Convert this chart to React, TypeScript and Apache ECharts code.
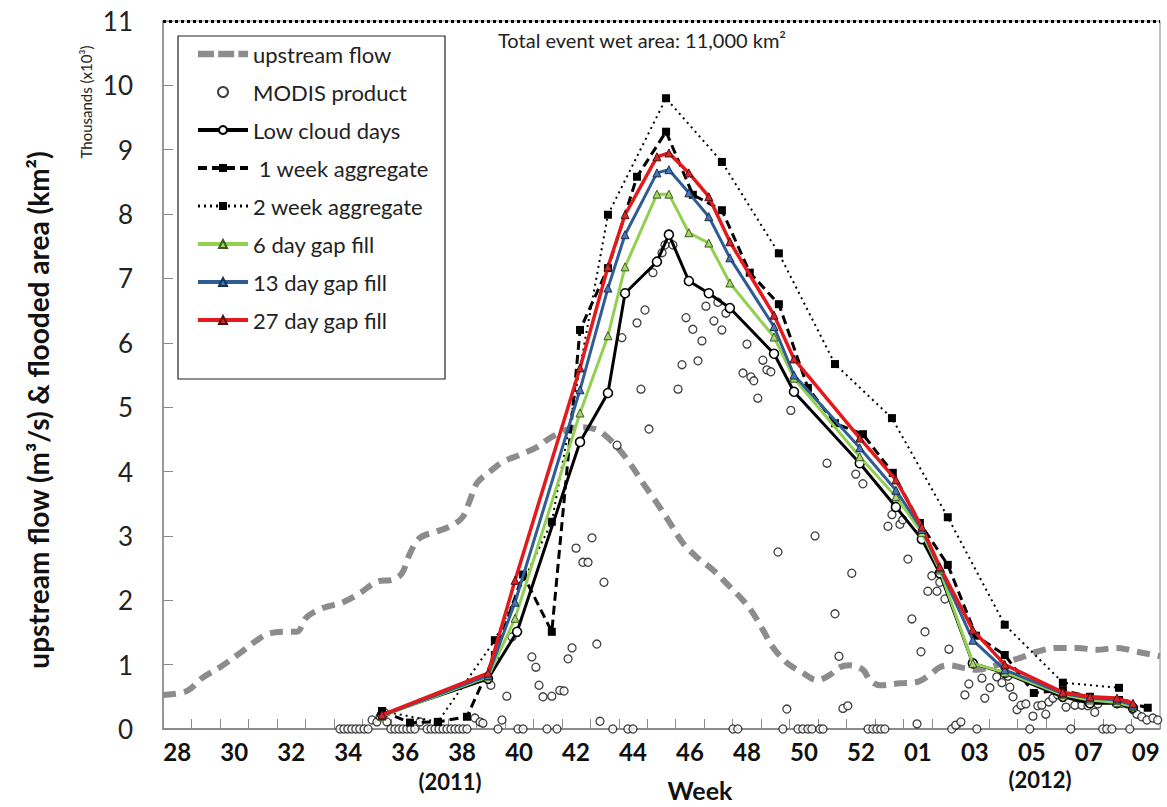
import React, { useEffect, useRef } from "react";
import * as echarts from "echarts";

const FONT = 'Lato, "Liberation Sans", Arial, sans-serif';

// Category slots along the week axis (US week numbering; 2011 has a week 53)
const weekCats = [
  "28", "29", "30", "31", "32", "33", "34", "35", "36", "37", "38", "39", "40",
  "41", "42", "43", "44", "45", "46", "47", "48", "49", "50", "51", "52", "53",
  "01", "02", "03", "04", "05", "06", "07", "08", "09",
];
const yTicks = [0, 1, 2, 3, 4, 5, 6, 7, 8, 9, 10, 11];

// x = position in weeks from the start of week 28 (2011); y = thousands
const upstreamFlow: number[][] = [
  [0.0, 0.53], [0.84, 0.59], [1.37, 0.79], [2.0, 0.96], [2.7, 1.18], [3.3, 1.38],
  [3.76, 1.49], [4.46, 1.51], [4.7, 1.51], [5.05, 1.74], [5.62, 1.88], [6.32, 1.97],
  [6.91, 2.11], [7.51, 2.29], [8.07, 2.32], [8.39, 2.42], [8.67, 2.73], [9.02, 2.97],
  [9.62, 3.07], [10.18, 3.17], [10.53, 3.3], [10.78, 3.56], [11.02, 3.82], [11.48, 4.0],
  [11.93, 4.15], [12.53, 4.26], [13.13, 4.38], [13.58, 4.52], [14.18, 4.65], [14.74, 4.69],
  [15.23, 4.65], [15.58, 4.54], [15.94, 4.38], [16.39, 4.13], [16.85, 3.82], [17.34, 3.51],
  [17.8, 3.2], [18.25, 2.89], [18.74, 2.67], [19.31, 2.47], [19.9, 2.21], [20.36, 2.0],
  [20.71, 1.8], [21.06, 1.54], [21.41, 1.27], [21.9, 1.03], [22.46, 0.87], [22.96, 0.76],
  [23.41, 0.84], [23.76, 0.96], [24.11, 0.99], [24.57, 0.92], [24.82, 0.76], [25.17, 0.68],
  [25.87, 0.71], [26.47, 0.73], [26.92, 0.84], [27.27, 0.96], [27.62, 0.99], [28.08, 0.95],
  [28.57, 0.92], [29.03, 0.96], [29.62, 1.04], [30.19, 1.12], [30.68, 1.2], [31.38, 1.26],
  [32.08, 1.26], [32.78, 1.23], [33.49, 1.26], [34.19, 1.2], [35.0, 1.13],
];

const modisProduct: number[][] = [
  [6.21, 0], [6.35, 0], [6.49, 0], [6.63, 0], [6.77, 0], [6.91, 0], [7.06, 0], [7.2, 0],
  [7.34, 0.14], [7.51, 0.11], [7.62, 0.19], [7.79, 0.25], [7.86, 0.11],
  [8.0, 0], [8.14, 0], [8.28, 0], [8.42, 0], [8.56, 0], [8.7, 0], [8.84, 0], [9.02, 0.11],
  [9.27, 0], [9.41, 0], [9.55, 0], [9.69, 0], [9.83, 0], [9.97, 0], [10.11, 0], [10.25, 0],
  [10.39, 0], [10.53, 0], [10.67, 0], [10.95, 0.17], [11.13, 0.11], [11.23, 0.09],
  [11.51, 0.68], [11.76, 0], [11.9, 0.14], [12.07, 0.51], [12.25, 1.43], [12.46, 0], [12.64, 0],
  [12.95, 1.12], [13.09, 0.96], [13.2, 0.68], [13.34, 0.5], [13.48, 0], [13.65, 0.51],
  [13.83, 0], [13.93, 0.6], [14.08, 0.59], [14.22, 1.09], [14.36, 1.26], [14.5, 2.81],
  [14.74, 2.59], [14.92, 2.59], [15.06, 2.97], [15.23, 1.32], [15.34, 0.12], [15.48, 2.28],
  [15.79, 0], [15.94, 4.41], [16.11, 6.08], [16.32, 0], [16.5, 0], [16.64, 6.31], [16.78, 5.28],
  [16.92, 6.51], [17.06, 4.66], [17.2, 7.09], [17.52, 7.4], [17.62, 7.52], [17.9, 7.52],
  [18.08, 5.28], [18.22, 5.66], [18.36, 6.39], [18.6, 6.21], [18.78, 5.72], [18.92, 6.03],
  [19.06, 6.57], [19.34, 6.34], [19.48, 6.63], [19.62, 6.2], [19.76, 6.46], [20.01, 0],
  [20.18, 0], [20.36, 5.53], [20.5, 5.98], [20.64, 5.47], [20.74, 5.41], [20.88, 5.14],
  [21.06, 5.73], [21.2, 5.58], [21.34, 5.55], [21.59, 2.75], [21.76, 0], [21.9, 0.31],
  [22.04, 4.95], [22.29, 0], [22.46, 0], [22.64, 0], [22.78, 0], [22.89, 3.0], [23.06, 0],
  [23.17, 0], [23.31, 4.13], [23.59, 1.79], [23.73, 1.13], [23.87, 0.32], [24.04, 0.36],
  [24.18, 2.42], [24.32, 3.96], [24.57, 3.81], [24.75, 0], [24.92, 0], [25.06, 0], [25.2, 0],
  [25.34, 0], [25.45, 3.15], [25.59, 3.33], [25.87, 3.18], [25.97, 3.25], [26.15, 2.64],
  [26.29, 1.71], [26.47, 0.08], [26.61, 1.2], [26.75, 1.51], [26.85, 2.14], [26.99, 2.38],
  [27.17, 2.14], [27.27, 2.28], [27.45, 2.02], [27.59, 1.24], [27.69, 0], [27.83, 0.06],
  [28.01, 0.11], [28.15, 0.53], [28.29, 0.7], [28.57, 0], [28.75, 0.79], [28.85, 0.48],
  [29.03, 0.64], [29.27, 0.81], [29.45, 0.72], [29.66, 0.82], [29.73, 0.65], [29.84, 0.5],
  [29.98, 0.3], [30.12, 0.37], [30.29, 0.39], [30.43, 0], [30.54, 0.2], [30.71, 0.36],
  [30.85, 0.37], [30.99, 0.23], [31.1, 0.42], [31.24, 0.48], [31.41, 0.53], [31.7, 0.34],
  [31.87, 0], [32.01, 0.37], [32.26, 0.37], [32.47, 0.36], [32.71, 0.26], [32.82, 0.39],
  [32.99, 0], [33.13, 0], [33.31, 0], [33.49, 0.4], [33.66, 0.4], [33.84, 0.39], [33.94, 0],
  [34.05, 0.3], [34.19, 0.23], [34.36, 0.19], [34.54, 0.14], [34.75, 0.17], [34.92, 0.14],
];

const lowCloudDays: number[][] = [
  [7.69, 0.22], [11.41, 0.78], [12.43, 1.51], [14.64, 4.46], [15.62, 5.22], [16.22, 6.77],
  [17.34, 7.26], [17.76, 7.68], [18.46, 6.96], [19.16, 6.77], [19.9, 6.54], [21.45, 5.83],
  [22.15, 5.24], [24.46, 4.13], [25.73, 3.45], [26.64, 2.95], [27.27, 2.42], [28.43, 1.02],
  [29.55, 0.87], [31.59, 0.5], [32.54, 0.4], [33.49, 0.4], [34.05, 0.33],
];

const weekAggregate1: number[][] = [
  [7.69, 0.28], [8.67, 0.1], [9.65, 0.11], [10.67, 0.19], [11.65, 1.15], [12.64, 2.4],
  [13.65, 1.51], [14.64, 6.2], [15.62, 7.16], [16.64, 8.58], [17.66, 9.28], [18.6, 8.3],
  [19.62, 8.06], [20.6, 7.09], [21.62, 6.6], [22.64, 5.3], [23.59, 4.75], [24.57, 4.58],
  [25.62, 3.98], [26.57, 3.2], [27.55, 2.55], [28.54, 1.45], [29.55, 1.15], [30.57, 0.56],
  [31.59, 0.6], [32.54, 0.5], [33.56, 0.45], [34.57, 0.33],
];

const weekAggregate2: number[][] = [
  [7.69, 0.28], [9.65, 0.11], [11.65, 1.38], [13.65, 3.22], [15.62, 7.99], [17.66, 9.8],
  [19.62, 8.81], [21.62, 7.39], [23.59, 5.67], [25.59, 4.83], [27.55, 3.29], [29.55, 1.62],
  [31.59, 0.72], [33.56, 0.64],
];

const gapFill6: number[][] = [
  [7.69, 0.2], [11.41, 0.81], [12.36, 1.72], [14.64, 4.91], [15.62, 6.11], [16.22, 7.18],
  [17.34, 8.31], [17.76, 8.31], [18.46, 7.71], [19.16, 7.55], [19.9, 6.93], [21.45, 6.09],
  [22.15, 5.45], [24.46, 4.23], [25.73, 3.61], [26.64, 3.05], [27.27, 2.47], [28.43, 1.02],
  [29.55, 0.88], [31.59, 0.53], [32.54, 0.45], [33.49, 0.41], [34.05, 0.35],
];

const gapFill13: number[][] = [
  [7.69, 0.21], [11.41, 0.83], [12.36, 1.97], [14.64, 5.27], [15.62, 6.85], [16.22, 7.68],
  [17.34, 8.64], [17.76, 8.69], [18.46, 8.33], [19.16, 7.96], [19.9, 7.32], [21.45, 6.25],
  [22.15, 5.5], [24.46, 4.37], [25.73, 3.71], [26.64, 3.1], [27.27, 2.5], [28.43, 1.38],
  [29.55, 0.92], [31.59, 0.55], [32.54, 0.48], [33.49, 0.45], [34.05, 0.37],
];

const gapFill27: number[][] = [
  [7.69, 0.22], [11.41, 0.87], [12.36, 2.31], [14.64, 5.61], [15.62, 7.18], [16.22, 7.99],
  [17.34, 8.89], [17.76, 8.95], [18.46, 8.64], [19.16, 8.27], [19.9, 7.57], [21.45, 6.43],
  [22.15, 5.75], [24.46, 4.52], [25.73, 3.87], [26.64, 3.14], [27.27, 2.52], [28.43, 1.54],
  [29.55, 1.0], [31.59, 0.57], [32.54, 0.5], [33.49, 0.48], [34.05, 0.4],
];

const totalWetArea = 11;

const legendNames = [
  "upstream flow",
  "MODIS product",
  "Low cloud days",
  " 1 week aggregate",
  "2 week aggregate",
  "6 day gap fill",
  "13 day gap fill",
  "27 day gap fill",
];

export default function App() {
  const ref = useRef<HTMLDivElement>(null);

  useEffect(() => {
    if (!ref.current) return;
    const chart = echarts.init(ref.current, undefined, { renderer: "svg" });

    const option: any = {
      animation: false,
      backgroundColor: "#fff",
      textStyle: { fontFamily: FONT },
      grid: {
        left: 163,
        right: 7,
        top: 21,
        bottom: 78,
        show: true,
        borderColor: "#8a8a8a",
        borderWidth: 1,
      },
      xAxis: [
        {
          type: "value",
          min: 0,
          max: weekCats.length,
          show: false,
        },
        {
          type: "category",
          data: weekCats,
          boundaryGap: true,
          position: "bottom",
          axisLine: { show: true, lineStyle: { color: "#7a7a7a", width: 1.5 } },
          axisTick: {
            show: true,
            inside: true,
            length: 10,
            interval: 0,
            lineStyle: { color: "#8a8a8a", width: 1 },
          },
          axisLabel: {
            interval: 1,
            margin: 10,
            fontSize: 24,
            fontWeight: "bold",
            color: "#111",
            fontFamily: FONT,
          },
          splitLine: { show: false },
        },
      ],
      yAxis: {
        type: "value",
        min: 0,
        max: yTicks[yTicks.length - 1],
        interval: 1,
        axisLine: { show: true, lineStyle: { color: "#8a8a8a", width: 1.5 } },
        axisTick: { show: true, inside: true, length: 10, lineStyle: { color: "#8a8a8a" } },
        axisLabel: {
          margin: 30,
          fontSize: 26,
          color: "#222",
          fontFamily: FONT,
        },
        splitLine: { show: false },
      },
      legend: {
        orient: "vertical",
        left: 196,
        top: 43,
        itemWidth: 50,
        itemHeight: 10,
        itemGap: 16,
        padding: 0,
        z: 10,
        lineStyle: { width: 4 },
        textStyle: {
          fontSize: 22,
          lineHeight: 22,
          color: "#222",
          fontFamily: FONT,
        },
        data: legendNames.map((n, i) =>
          i === 0
            ? {
                name: n,
                icon: "path://M0,0h15v6h-15z M19,0h15v6h-15z M38,0h9v6h-9z",
                itemStyle: { color: "#8c8c8c" },
              }
            : i === 4
            ? { name: n, lineStyle: { width: 3 } }
            : { name: n }
        ),
      },
      graphic: [
        {
          type: "rect",
          z: 8,
          shape: { x: 178, y: 36, width: 267, height: 343 },
          style: { fill: "#fff", stroke: "#222", lineWidth: 1.2 },
        },
        {
          type: "text",
          z: 8,
          x: 498,
          y: 40,
          style: {
            text: "Total event wet area: 11,000 km²",
            font: `20px ${FONT}`,
            fill: "#222",
            textVerticalAlign: "middle",
          },
        },
        {
          type: "text",
          x: 38,
          y: 410,
          rotation: Math.PI / 2,
          style: {
            text: "upstream flow (m³/s) & flooded area (km²)",
            font: `bold 28px ${FONT}`,
            fill: "#111",
            textAlign: "center",
            textVerticalAlign: "middle",
          },
        },
        {
          type: "text",
          x: 86,
          y: 102,
          rotation: Math.PI / 2,
          style: {
            text: "Thousands (x10³)",
            font: `15px ${FONT}`,
            fill: "#222",
            textAlign: "center",
            textVerticalAlign: "middle",
          },
        },
        {
          type: "text",
          x: 450,
          y: 781,
          style: {
            text: "(2011)",
            font: `bold 22px ${FONT}`,
            fill: "#111",
            textAlign: "center",
            textVerticalAlign: "middle",
          },
        },
        {
          type: "text",
          x: 1040,
          y: 779,
          style: {
            text: "(2012)",
            font: `bold 22px ${FONT}`,
            fill: "#111",
            textAlign: "center",
            textVerticalAlign: "middle",
          },
        },
        {
          type: "text",
          x: 700,
          y: 790,
          style: {
            text: "Week",
            font: `bold 25px ${FONT}`,
            fill: "#111",
            textAlign: "center",
            textVerticalAlign: "middle",
          },
        },
      ],
      series: [
        {
          name: "upstream flow",
          type: "line",
          data: upstreamFlow,
          smooth: 0.35,
          symbol: "none",
          z: 1,
          lineStyle: { color: "#8c8c8c", width: 6, type: [13, 8] },
          itemStyle: { color: "#8c8c8c" },
          markLine: {
            silent: true,
            symbol: "none",
            label: { show: false },
            lineStyle: { color: "#000", width: 3, type: [3, 3] },
            data: [{ yAxis: totalWetArea }],
          },
        },
        {
          name: "MODIS product",
          type: "scatter",
          data: modisProduct,
          symbol: "circle",
          symbolSize: 8,
          z: 2,
          itemStyle: { color: "#fff", borderColor: "#111", borderWidth: 1.3 },
        },
        {
          name: "Low cloud days",
          type: "line",
          data: lowCloudDays,
          symbol: "circle",
          symbolSize: 9,
          showSymbol: true,
          z: 3,
          lineStyle: { color: "#000", width: 3 },
          itemStyle: { color: "#fff", borderColor: "#000", borderWidth: 1.6 },
        },
        {
          name: " 1 week aggregate",
          type: "line",
          data: weekAggregate1,
          symbol: "rect",
          symbolSize: 8,
          z: 3,
          lineStyle: { color: "#000", width: 3, type: [9, 5] },
          itemStyle: { color: "#000" },
        },
        {
          name: "2 week aggregate",
          type: "line",
          data: weekAggregate2,
          symbol: "rect",
          symbolSize: 8,
          z: 3,
          lineStyle: { color: "#000", width: 2, type: [2, 4] },
          itemStyle: { color: "#000" },
        },
        {
          name: "6 day gap fill",
          type: "line",
          data: gapFill6,
          symbol: "triangle",
          symbolSize: 8,
          z: 4,
          lineStyle: { color: "#92D050", width: 3 },
          itemStyle: { color: "#a5d46a", borderColor: "#3b5a1b", borderWidth: 1 },
        },
        {
          name: "13 day gap fill",
          type: "line",
          data: gapFill13,
          symbol: "triangle",
          symbolSize: 8,
          z: 4,
          lineStyle: { color: "#2E5D96", width: 3 },
          itemStyle: { color: "#4676b4", borderColor: "#172f50", borderWidth: 1 },
        },
        {
          name: "27 day gap fill",
          type: "line",
          data: gapFill27,
          symbol: "triangle",
          symbolSize: 8,
          z: 4,
          lineStyle: { color: "#E3191C", width: 3.5 },
          itemStyle: { color: "#d9262a", borderColor: "#4d0e0e", borderWidth: 1 },
        },
      ],
    };

    chart.setOption(option);
    return () => chart.dispose();
  }, []);

  return (
    <div
      ref={ref}
      style={{ position: "absolute", left: 0, top: 0, width: 1167, height: 807 }}
    />
  );
}
